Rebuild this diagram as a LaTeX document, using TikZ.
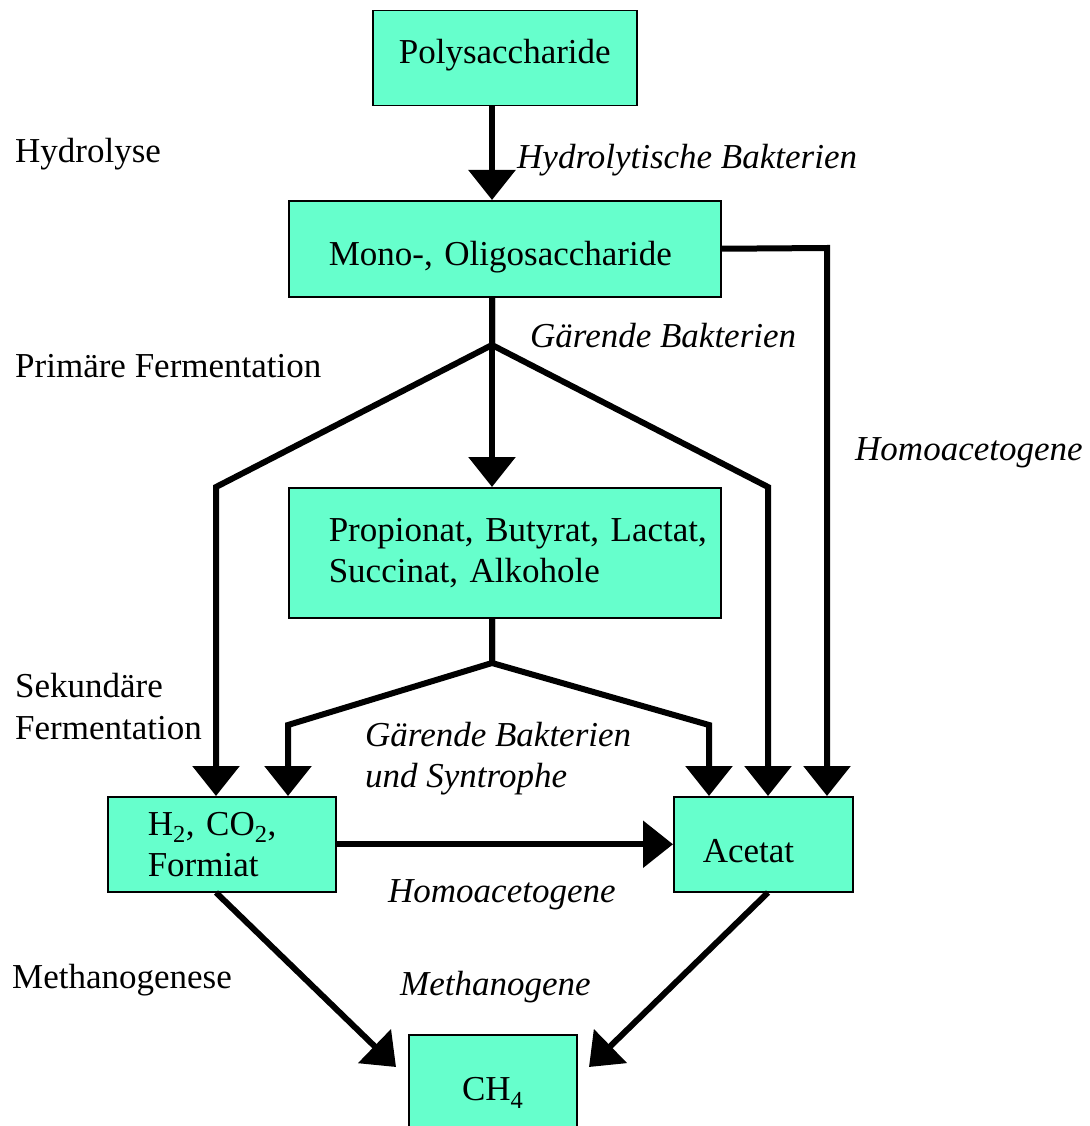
\documentclass[tikz,border=0pt]{standalone}
\usepackage{fontspec}
\setmainfont{Liberation Serif}
\usetikzlibrary{arrows.meta}
\definecolor{boxfill}{HTML}{66FFCC}
\begin{document}
\begin{tikzpicture}[x=1pt,y=-1pt,
  every node/.style={font=\fontsize{35}{41}\selectfont, inner sep=0pt},
  box/.style={draw=black, line width=1.5pt, fill=boxfill, anchor=north west},
  conn/.style={line width=6pt, line join=miter},
  arr/.style={line width=6pt, line join=miter, -{Triangle[width=46pt,length=30pt]}},
  lbl/.style={anchor=base west},
  ilbl/.style={anchor=base west, font=\fontsize{35}{41}\selectfont\itshape}]
\useasboundingbox (0,0) rectangle (1089,1126);

% boxes
\node[box, minimum width=264pt, minimum height=95pt, text height=24pt, text depth=13pt] (poly) at (372,10) {Polysaccharide};
\node[box, minimum height=96pt, inner xsep=40pt, text width=352pt, align=left, text height=34pt, text depth=0pt] (mono) at (288,200) {Mono-, Oligosaccharide};
\node[box, minimum height=130pt, inner xsep=40pt, text width=352pt, align=left] (prop) at (288,487) {\mbox{Propionat, Butyrat, Lactat,}\\Succinat, Alkohole};
\node[box, minimum height=95pt, inner xsep=40pt, text width=148pt, align=left] (h2) at (107,796) {H\textsubscript{2}, CO\textsubscript{2},\\Formiat};
\node[box, minimum height=95pt, inner xsep=29pt, text width=121pt, align=left, text height=37pt, text depth=0pt] (acetat) at (673,796) {Acetat};
\node[box, minimum width=168pt, minimum height=95pt, text height=37pt, text depth=0pt] (ch4) at (408,1034) {CH\textsubscript{4}};

% helper coordinates
\coordinate (cx) at (492,0);
\coordinate (b1) at (492,345);
\coordinate (l1) at (216,487);
\coordinate (r1) at (768,487);
\coordinate (hx) at (827,248);
\coordinate (b2) at (492,663);
\coordinate (l2) at (288,725);
\coordinate (r2) at (709,725);
\coordinate (t1) at (396,1067);
\coordinate (t2) at (589,1067);

% connectors
\draw[arr] (poly.south -| cx) -- (mono.north -| cx);
\draw[arr] (mono.south -| cx) -- (prop.north -| cx);
\draw[arr] (mono.south -| cx) -- (b1) -- (l1) -- (h2.north -| l1);
\draw[arr] (mono.south -| cx) -- (b1) -- (r1) -- (acetat.north -| r1);
\draw[arr] (mono.east) -- (hx) -- (acetat.north -| hx);
\draw[arr] (prop.south -| cx) -- (b2) -- (l2) -- (h2.north -| l2);
\draw[arr] (prop.south -| cx) -- (b2) -- (r2) -- (acetat.north -| r2);
\draw[arr] (h2.east) -- (acetat.west);
\draw[arr] (h2.south -| l1) -- (t1);
\draw[arr] (acetat.south -| r1) -- (t2);

% labels
\node[lbl] (hydrolyse) at (15,163) {Hydrolyse};
\node[ilbl] (hb) at (517,168) {Hydrolytische Bakterien};
\node[ilbl] (gb1) at (530,347) {Gärende Bakterien};
\node[lbl] (pf) at (15,377) {Primäre Fermentation};
\node[ilbl] (ha1) at (855,460) {Homoacetogene};
\node[lbl] (sf1) at (15,697) {Sekundäre};
\node[lbl] (sf2) at (15,739) {Fermentation};
\node[ilbl] (gb2a) at (365,746) {Gärende Bakterien};
\node[ilbl] (gb2b) at (365,787) {und Syntrophe};
\node[ilbl] (ha2) at (388,902) {Homoacetogene};
\node[lbl] (mg) at (12,988) {Methanogenese};
\node[ilbl] (mgb) at (400,995) {Methanogene};
\end{tikzpicture}
\end{document}
